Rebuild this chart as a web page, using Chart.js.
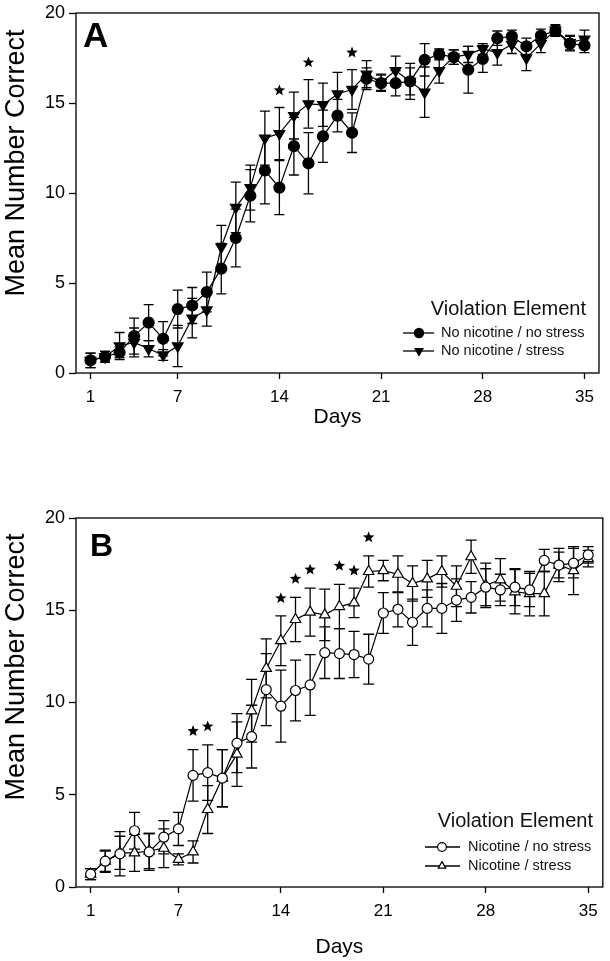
<!DOCTYPE html>
<html>
<head>
<meta charset="utf-8">
<script src="https://cdn.jsdelivr.net/npm/chart.js@4.4.1/dist/chart.umd.min.js"></script>
<style>
  html, body { margin: 0; padding: 0; background: #fff; }
  .panel { position: absolute; left: 0; width: 610px; }
  #wrapA { top: 0; height: 480px; }
  #wrapB { top: 480px; height: 481px; }
</style>
</head>
<body>
<div class="panel" id="wrapA"><canvas id="chartA" width="610" height="480"></canvas></div>
<div class="panel" id="wrapB"><canvas id="chartB" width="610" height="481"></canvas></div>
<script>
// days of training
const days = [1,2,3,4,5,6,7,8,9,10,11,12,13,14,15,16,17,18,19,20,21,22,23,24,25,26,27,28,29,30,31,32,33,34,35];
const xTicks = [1, 7, 14, 21, 28, 35];
const yTicks = [0, 5, 10, 15, 20];

// panel A - no nicotine
const aNoStress    = [0.7,0.9,1.15,2.05,2.8,1.9,3.55,3.75,4.5,5.8,7.5,9.85,11.25,10.3,12.6,11.65,13.15,14.3,13.35,16.35,16.1,16.1,16.2,17.4,17.7,17.55,16.85,17.45,18.6,18.7,18.15,18.75,19.0,18.3,18.2];
const aNoStressSem = [0.4,0.3,0.3,1.0,1.0,0.95,1.05,1.0,1.1,1.4,1.6,1.45,1.85,1.5,1.6,1.7,1.45,0.9,1.1,0.6,0.45,0.7,0.75,0.9,0.3,0.4,1.3,0.75,0.4,0.35,0.45,0.35,0.3,0.4,0.4];
const aStress      = [0.7,0.9,1.5,1.7,1.35,1.0,1.5,3.05,3.5,7.0,9.2,10.3,13.05,13.3,14.3,14.95,14.9,15.5,15.75,16.6,16.15,16.8,16.2,15.6,16.8,17.55,17.7,18.0,17.8,18.25,17.5,18.3,19.05,18.35,18.55];
const aStressSem   = [0.4,0.3,0.75,0.8,0.45,0.3,1.15,1.1,0.9,1.2,1.4,1.25,1.5,1.45,1.3,1.35,1.2,1.2,1.1,0.75,0.45,0.8,1.0,1.4,0.7,0.4,0.45,0.3,0.7,0.5,0.7,0.5,0.3,0.4,0.5];
const aStarDays = [14, 16, 19];
const aStarY    = [15.7, 17.25, 17.8];

// panel B - nicotine
const bNoStress    = [0.7,1.4,1.8,3.05,1.9,2.7,3.15,6.05,6.2,5.9,7.8,8.15,10.7,9.8,10.65,10.95,12.7,12.65,12.6,12.35,14.85,15.05,14.35,15.1,15.1,15.55,15.7,16.25,16.1,16.25,16.1,17.7,17.45,17.55,18.0];
const bNoStressSem = [0.3,0.55,1.2,1.0,1.0,0.9,0.9,1.4,1.5,1.55,1.6,1.7,1.95,1.95,1.65,1.65,1.4,1.35,1.25,1.35,1.1,0.95,1.25,1.0,1.35,1.15,0.85,1.0,0.85,1.0,0.9,0.6,0.7,0.8,0.45];
const bStress      = [0.7,1.4,1.85,1.85,1.95,2.1,1.5,1.9,4.2,5.9,7.2,9.55,11.85,13.35,14.5,14.9,14.75,15.2,15.4,17.1,17.15,16.95,16.45,16.7,17.1,16.3,17.9,16.35,16.65,16.0,15.9,15.9,17.45,17.15,17.8];
const bStressSem   = [0.3,0.6,0.9,1.0,0.95,1.05,0.3,0.6,1.3,1.55,1.75,1.7,1.6,1.35,1.2,1.3,1.4,1.2,0.8,0.85,0.55,1.0,0.95,1.0,0.85,1.1,0.9,1.2,1.15,1.2,1.2,1.2,0.9,1.3,0.45];
const bStarDays = [8, 9, 14, 15, 16, 18, 19, 20];
const bStarY    = [8.45, 8.7, 15.65, 16.7, 17.2, 17.4, 17.15, 18.95];

Chart.defaults.font.family = '"Liberation Sans", Arial, sans-serif';
Chart.defaults.color = '#000';

function drawStar(ctx, cx, cy, R, r) {
  ctx.beginPath();
  for (let k = 0; k < 10; k++) {
    const a = -Math.PI / 2 + k * Math.PI / 5;
    const rad = k % 2 ? r : R;
    ctx.lineTo(cx + rad * Math.cos(a), cy + rad * Math.sin(a));
  }
  ctx.closePath();
  ctx.fill();
}

// error bars, stars, frame, panel letter, y title, legend
const decor = {
  id: 'decor',
  beforeDatasetsDraw(chart, args, opts) {
    const ctx = chart.ctx, ys = chart.scales.y;
    ctx.save();
    ctx.strokeStyle = '#000';
    ctx.lineWidth = 1.3;
    chart.data.datasets.forEach((ds, i) => {
      if (!ds.errors) return;
      chart.getDatasetMeta(i).data.forEach((pt, j) => {
        const v = ds.data[j].y, e = ds.errors[j];
        const t = ys.getPixelForValue(v + e), b = ys.getPixelForValue(v - e);
        const c = opts.cap;
        ctx.beginPath();
        ctx.moveTo(pt.x, t); ctx.lineTo(pt.x, b);
        ctx.moveTo(pt.x - c, t); ctx.lineTo(pt.x + c, t);
        ctx.moveTo(pt.x - c, b); ctx.lineTo(pt.x + c, b);
        ctx.stroke();
      });
    });
    ctx.restore();
  },
  afterDatasetsDraw(chart, args, opts) {
    const ctx = chart.ctx, xs = chart.scales.x, ys = chart.scales.y;
    ctx.save();
    ctx.fillStyle = '#000';
    opts.starDays.forEach((d, i) => {
      drawStar(ctx, xs.getPixelForValue(d), ys.getPixelForValue(opts.starY[i]), 6, 2.6);
    });
    ctx.restore();
  },
  afterDraw(chart, args, opts) {
    const ctx = chart.ctx, a = chart.chartArea;
    ctx.save();
    // frame
    ctx.strokeStyle = '#111';
    ctx.lineWidth = 1.4;
    ctx.strokeRect(a.left, a.top, a.right - a.left, a.bottom - a.top);

    // panel letter
    ctx.fillStyle = '#000';
    ctx.font = 'bold ' + opts.letterSize + 'px "Liberation Sans", Arial, sans-serif';
    ctx.textAlign = 'left';
    ctx.textBaseline = 'alphabetic';
    ctx.fillText(opts.letter, opts.letterX, opts.letterY);

    // y axis title
    ctx.save();
    ctx.translate(opts.yTitleX, opts.yTitleY);
    ctx.rotate(-Math.PI / 2);
    ctx.font = '27px "Liberation Sans", Arial, sans-serif';
    ctx.textAlign = 'center';
    ctx.textBaseline = 'middle';
    ctx.fillText('Mean Number Correct', 0, 0);
    ctx.restore();

    // legend
    const L = opts.legend;
    ctx.fillStyle = '#111';
    ctx.font = '20px "Liberation Sans", Arial, sans-serif';
    ctx.textAlign = 'right';
    ctx.textBaseline = 'alphabetic';
    ctx.fillText('Violation Element', L.titleRight, L.titleBase);
    ctx.font = '14.5px "Liberation Sans", Arial, sans-serif';
    ctx.textAlign = 'left';
    ctx.textBaseline = 'middle';
    chart.data.datasets.forEach((ds, i) => {
      const y = L.rows[i];
      ctx.strokeStyle = '#000';
      ctx.lineWidth = 1.3;
      ctx.beginPath();
      ctx.moveTo(L.lineX0, y); ctx.lineTo(L.lineX1, y);
      ctx.stroke();
      ctx.fillStyle = ds.pointBackgroundColor;
      ctx.strokeStyle = '#000';
      ctx.lineWidth = 1.2;
      Chart.helpers.drawPoint(ctx, {
        pointStyle: ds.pointStyle,
        rotation: ds.pointRotation || 0,
        radius: L.markR,
        borderWidth: 1.2
      }, L.markX, y);
      ctx.fillStyle = '#111';
      ctx.fillText(ds.label, L.textX, y);
    });
    ctx.restore();
  }
};

function series(vals) {
  return days.map((d, i) => ({ x: d, y: vals[i] }));
}

function makeChart(id, datasets, dec, layoutPad, xHeight, daysPad) {
  return new Chart(document.getElementById(id), {
    type: 'line',
    data: { datasets },
    plugins: [decor],
    options: {
      responsive: false,
      animation: false,
      devicePixelRatio: 1,
      layout: { padding: layoutPad },
      plugins: {
        legend: { display: false },
        tooltip: { enabled: false },
        decor: dec
      },
      elements: { line: { tension: 0 } },
      scales: {
        x: {
          type: 'linear',
          min: 0,
          max: 36,
          afterBuildTicks: s => { s.ticks = xTicks.map(v => ({ value: v })); },
          afterFit: s => { s.height = xHeight; },
          grid: { drawOnChartArea: false, drawTicks: true, tickLength: 6, tickColor: '#000', tickWidth: 1.3 },
          border: { display: false },
          ticks: { font: { size: 17, lineHeight: 1.2 }, padding: 8, color: '#000' },
          title: { display: true, text: 'Days', font: { size: 21, lineHeight: 1.2 }, color: '#000', padding: { top: 0, bottom: daysPad } }
        },
        y: {
          min: 0,
          max: 20,
          afterBuildTicks: s => { s.ticks = yTicks.map(v => ({ value: v })); },
          afterFit: s => { s.width = 76; },
          grid: { drawOnChartArea: false, drawTicks: true, tickLength: 7, tickColor: '#000', tickWidth: 1.3 },
          border: { display: false },
          ticks: { font: { size: 18, lineHeight: 1 }, padding: 4, color: '#000' }
        }
      }
    }
  });
}

const lineStyle = { borderColor: '#000', borderWidth: 1.2, showLine: true, pointBorderColor: '#000', pointBorderWidth: 1.2 };

makeChart('chartA', [
  Object.assign({ label: 'No nicotine / no stress', data: series(aNoStress), errors: aNoStressSem,
    pointStyle: 'circle', pointRadius: 5.5, pointBackgroundColor: '#000' }, lineStyle),
  Object.assign({ label: 'No nicotine / stress', data: series(aStress), errors: aStressSem,
    pointStyle: 'triangle', pointRotation: 180, pointRadius: 6.2, pointBackgroundColor: '#000' }, lineStyle)
], {
  cap: 5, starDays: aStarDays, starY: aStarY,
  letter: 'A', letterSize: 35, letterX: 83, letterY: 47,
  yTitleX: 17, yTitleY: 163,
  legend: { titleRight: 586, titleBase: 315, rows: [333, 351], lineX0: 403, lineX1: 434, markX: 419, markR: 4.6, textX: 441 }
}, { top: 9, right: 11, left: 0, bottom: 0 }, 107, 50);

makeChart('chartB', [
  Object.assign({ label: 'Nicotine / no stress', data: series(bNoStress), errors: bNoStressSem,
    pointStyle: 'circle', pointRadius: 5, pointBackgroundColor: '#fff' }, lineStyle),
  Object.assign({ label: 'Nicotine / stress', data: series(bStress), errors: bStressSem,
    pointStyle: 'triangle', pointRadius: 6, pointBackgroundColor: '#fff' }, lineStyle)
], {
  cap: 5.5, starDays: bStarDays, starY: bStarY,
  letter: 'B', letterSize: 32, letterX: 90, letterY: 76,
  yTitleX: 17, yTitleY: 187,
  legend: { titleRight: 593, titleBase: 347, rows: [367, 386], lineX0: 425, lineX1: 460, markX: 442, markR: 4.4, textX: 468 }
}, { top: 38, right: 4, left: 0, bottom: 0 }, 74, 1);
</script>
</body>
</html>
